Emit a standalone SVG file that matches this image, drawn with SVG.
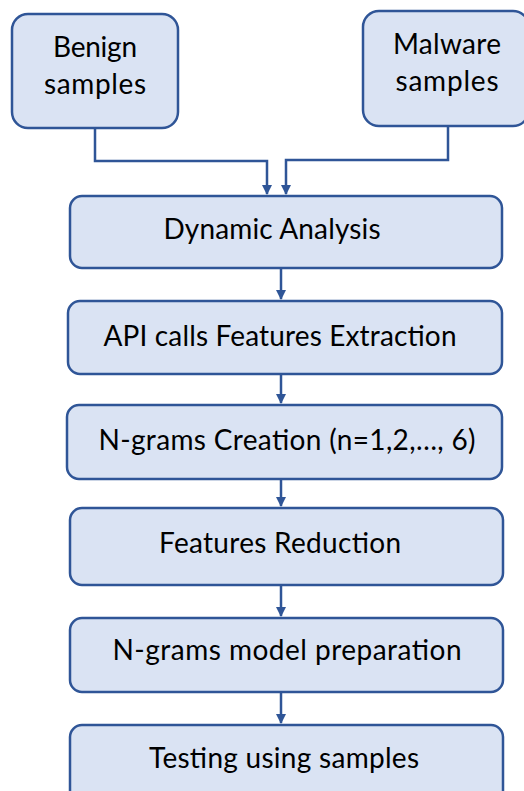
<svg xmlns="http://www.w3.org/2000/svg" width="524" height="791" viewBox="0 0 524 791">
<style>
.box{fill:#DAE3F3;stroke:#2F5597;stroke-width:2.5}
.t{font-family:Lato,"Open Sans",sans-serif;font-size:28px;fill:#000;text-anchor:middle}
.c{fill:none;stroke:#2F5597;stroke-width:2.5}
</style>
<defs>
<marker id="ah" markerWidth="10" markerHeight="10" refX="9" refY="5" orient="auto" markerUnits="userSpaceOnUse">
<path d="M0,0 L10,5 L0,10 z" fill="#2F5597"/>
</marker>
</defs>
<rect width="524" height="791" fill="#fff"/>
<g id="connectors">
<path class="c" d="M95,128 V161 H267 V194" marker-end="url(#ah)"/>
<path class="c" d="M448,126 V160 H286 V194" marker-end="url(#ah)"/>
<path class="c" d="M281,268 V299" marker-end="url(#ah)"/>
<path class="c" d="M281,374 V403" marker-end="url(#ah)"/>
<path class="c" d="M281,479 V506" marker-end="url(#ah)"/>
<path class="c" d="M281,585 V616" marker-end="url(#ah)"/>
<path class="c" d="M281,692 V723" marker-end="url(#ah)"/>
</g>
<g id="benign">
<rect class="box" x="12" y="14" width="166" height="114" rx="16"/>
<text class="t" x="95" y="57" textLength="84">Benign</text>
<text class="t" x="95" y="94" textLength="102">samples</text>
</g>
<g id="malware">
<rect class="box" x="363" y="11" width="166" height="115" rx="16"/>
<text class="t" x="447" y="54" textLength="108">Malware</text>
<text class="t" x="447" y="91" textLength="103">samples</text>
</g>
<g id="dynamic">
<rect class="box" x="70" y="196" width="432" height="72" rx="12"/>
<text class="t" x="272" y="239" textLength="217">Dynamic Analysis</text>
</g>
<g id="api">
<rect class="box" x="68" y="301" width="434" height="73" rx="12"/>
<text class="t" x="280" y="346" textLength="353">API calls Features Extraction</text>
</g>
<g id="ngrams">
<rect class="box" x="67" y="405" width="435" height="74" rx="12"/>
<text class="t" x="287" y="450" textLength="377">N-grams Creation (n=1,2,…, 6)</text>
</g>
<g id="reduction">
<rect class="box" x="70" y="508" width="433" height="77" rx="12"/>
<text class="t" x="280" y="553" textLength="242">Features Reduction</text>
</g>
<g id="model">
<rect class="box" x="70" y="618" width="433" height="74" rx="12"/>
<text class="t" x="287" y="660" textLength="349">N-grams model preparation</text>
</g>
<g id="testing">
<rect class="box" x="70" y="725" width="433" height="90" rx="12"/>
<text class="t" x="284" y="768" textLength="270">Testing using samples</text>
</g>
</svg>
